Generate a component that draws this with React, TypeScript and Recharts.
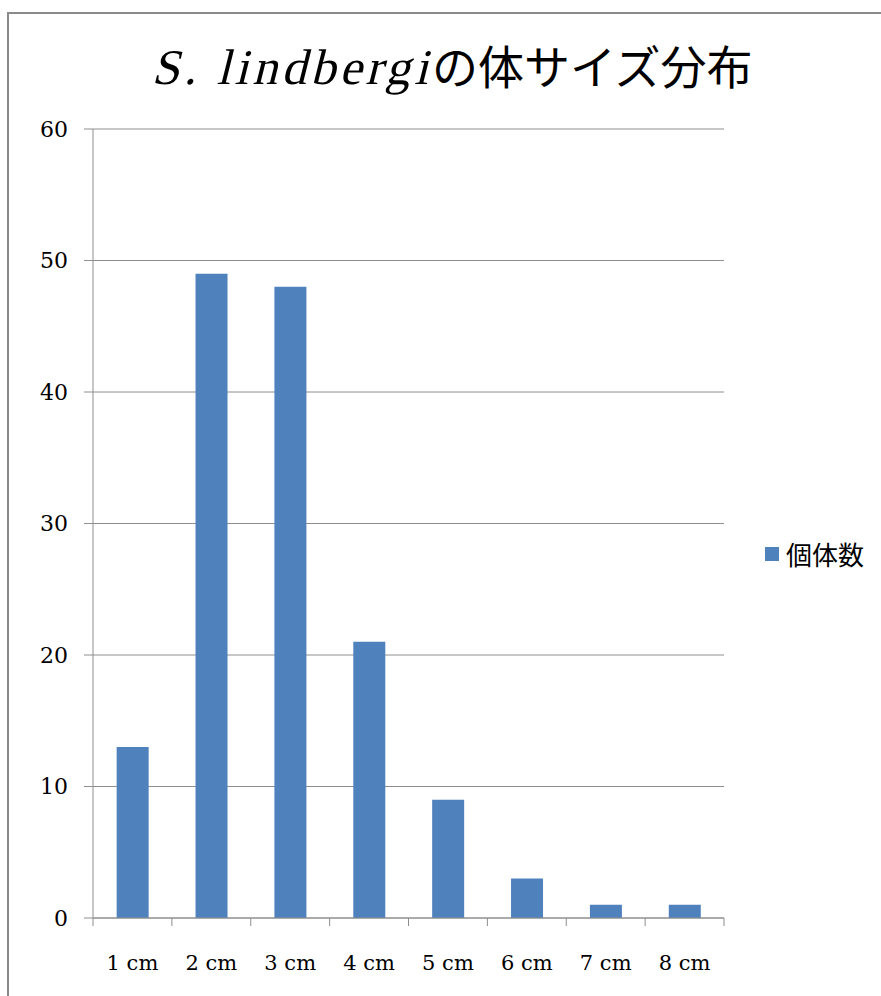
import { Bar, BarChart, CartesianGrid, Legend, XAxis, YAxis } from "recharts";

const CATEGORIES = ["1 cm", "2 cm", "3 cm", "4 cm", "5 cm", "6 cm", "7 cm", "8 cm"];
const COUNTS = [13, 49, 48, 21, 9, 3, 1, 1];
const Y_TICKS = [0, 10, 20, 30, 40, 50, 60];
const SERIES_NAME = "個体数";
const TITLE_LATIN = "S. lindbergi";
const TITLE_JA = "の体サイズ分布";

const data = CATEGORIES.map((label, i) => ({ label, count: COUNTS[i] }));

const CHART_W = 881;
const CHART_H = 996;
const MARGIN = { top: 129, right: 157, bottom: 28, left: 33 };
const Y_AXIS_W = 60;
const PLOT_W = CHART_W - MARGIN.left - Y_AXIS_W - MARGIN.right;
const BAND = PLOT_W / CATEGORIES.length;

const AXIS_GRAY = "#8e8e8e";
const BAR_BLUE = "#4f81bd";
const SERIF = "'DejaVu Serif', 'Liberation Serif', serif";

function CategoryTick(props: { x?: number; y?: number; index?: number; payload?: { value: string } }) {
  const { x = 0, y = 0, index = 0, payload } = props;
  const axisY = y - 8;
  return (
    <g>
      <line x1={x - BAND / 2} x2={x - BAND / 2} y1={axisY} y2={axisY + 8} stroke={AXIS_GRAY} />
      {index === CATEGORIES.length - 1 && (
        <line x1={x + BAND / 2} x2={x + BAND / 2} y1={axisY} y2={axisY + 8} stroke={AXIS_GRAY} />
      )}
      <text x={x} y={axisY + 52} textAnchor="middle" style={{ fontFamily: SERIF, fontSize: 21 }} fill="#000">
        {payload?.value}
      </text>
    </g>
  );
}

function LegendBox() {
  return (
    <div style={{ display: "flex", alignItems: "center", fontFamily: "'Noto Sans CJK JP', sans-serif", fontSize: 26, color: "#000" }}>
      <span style={{ display: "inline-block", width: 14, height: 14, background: BAR_BLUE, marginRight: 7 }} />
      <span>{SERIES_NAME}</span>
    </div>
  );
}

export default function App() {
  return (
    <div style={{ position: "fixed", inset: 0, overflow: "hidden", background: "#fff" }}>
      <div
        style={{
          position: "absolute",
          left: 7,
          top: 12,
          width: 1000,
          height: 1100,
          border: "2px solid #8a8a8a",
          boxSizing: "border-box",
        }}
      />
      <div style={{ position: "absolute", left: 0, top: 0 }}>
        <BarChart width={CHART_W} height={CHART_H} data={data} margin={MARGIN} barCategoryGap="30%">
          <CartesianGrid vertical={false} stroke={AXIS_GRAY} />
          <XAxis
            dataKey="label"
            stroke={AXIS_GRAY}
            tickLine={false}
            tickSize={8}
            tickMargin={0}
            height={50}
            interval={0}
            tick={<CategoryTick />}
          />
          <YAxis
            domain={[0, 60]}
            ticks={Y_TICKS}
            width={Y_AXIS_W}
            stroke={AXIS_GRAY}
            tickSize={9}
            tickMargin={16}
            tick={{ fontFamily: SERIF, fontSize: 22, fill: "#000" }}
          />
          <Legend
            layout="horizontal"
            align="center"
            verticalAlign="middle"
            content={<LegendBox />}
            wrapperStyle={{ left: 765, top: 535, width: "auto" }}
          />
          <Bar dataKey="count" name={SERIES_NAME} fill={BAR_BLUE} isAnimationActive={false} />
        </BarChart>
      </div>
      <svg width={CHART_W} height={120} style={{ position: "absolute", left: 0, top: 0 }}>
        {/* latin part: upright serif slanted by hand, ends where the Japanese part starts */}
        <text
          transform="translate(432 84) skewX(-14)"
          x={0}
          y={0}
          textAnchor="end"
          fill="#000"
          style={{ fontFamily: "'Liberation Serif', 'DejaVu Serif', serif", fontSize: 50, letterSpacing: 4 }}
        >
          {TITLE_LATIN}
        </text>
        <text x={432} y={84} fill="#000" style={{ fontFamily: "'Noto Sans CJK JP', sans-serif", fontSize: 46 }}>
          {TITLE_JA}
        </text>
      </svg>
    </div>
  );
}
